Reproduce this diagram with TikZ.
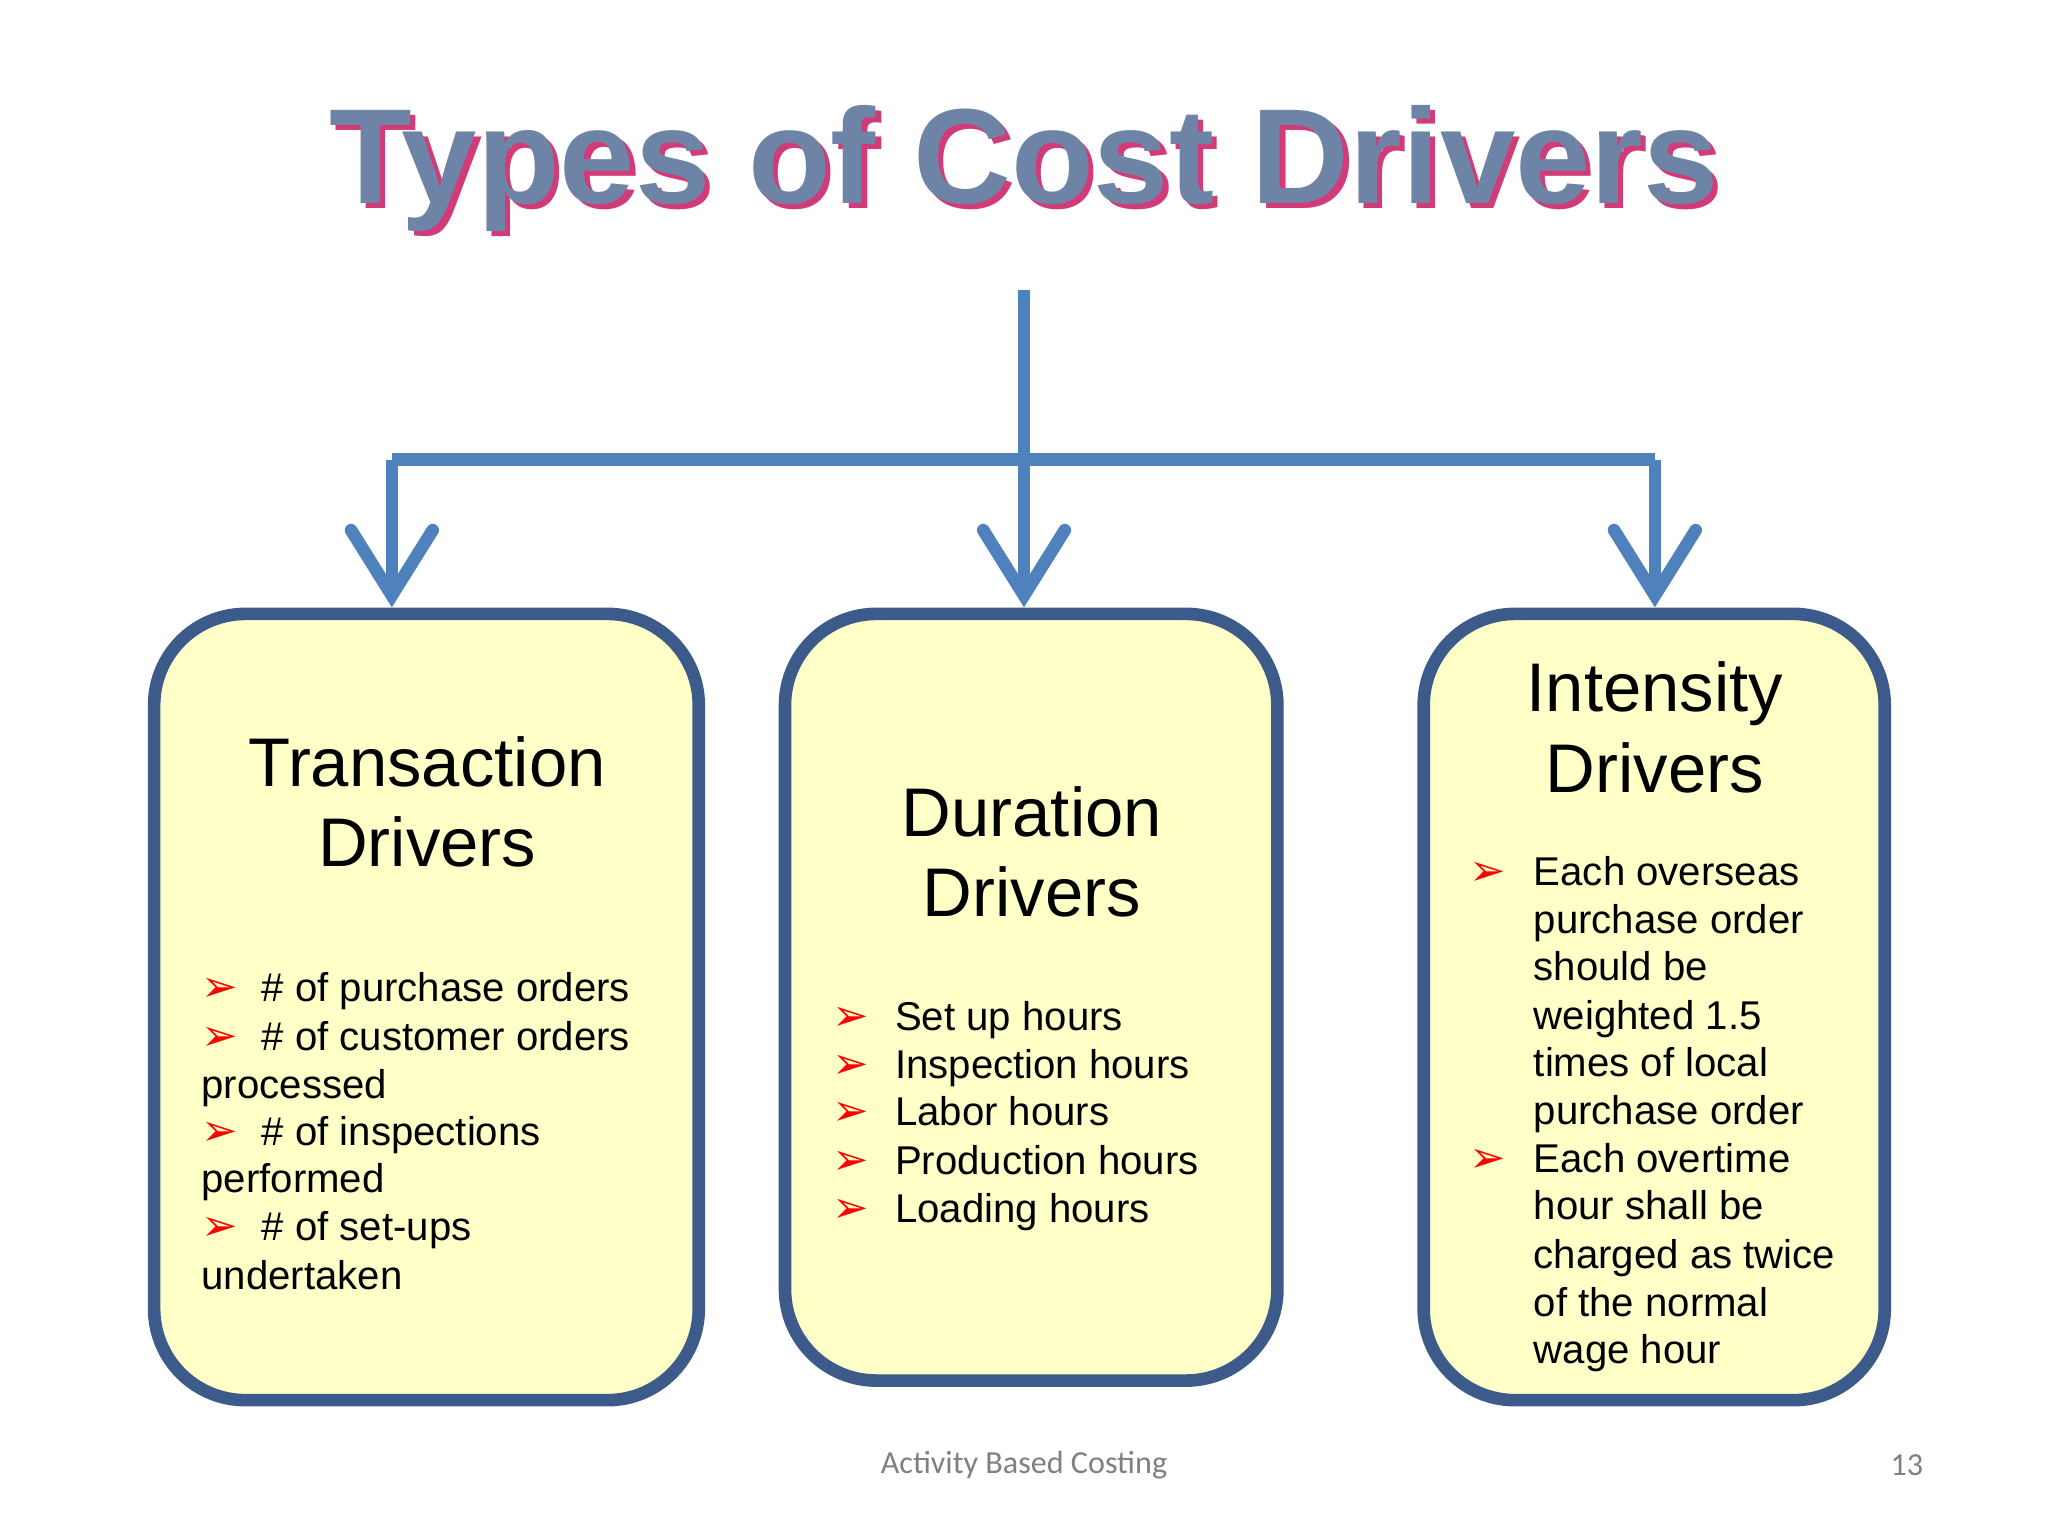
\documentclass[tikz,border=0pt]{standalone}
\usepackage{fontspec}
\setmainfont{Liberation Sans}
\newfontfamily\symf{DejaVu Sans}
\newfontfamily\foot{Carlito}
\usetikzlibrary{arrows.meta}
\definecolor{bfill}{HTML}{FFFFC8}
\definecolor{bdraw}{HTML}{3C5A8A}
\definecolor{conn}{HTML}{4F81BD}
\definecolor{ttl}{HTML}{6E84A6}
\definecolor{shd}{HTML}{D23A78}
\tikzset{
 box/.style={draw=bdraw,line width=5.5pt,fill=bfill,rounded corners=1.4cm},
 conline/.style={draw=conn,line width=5.5pt},
 conarrow/.style={conline,-{Straight Barb[length=1.0cm,width=1.25cm,line cap=round]}},
 head/.style={font=\fontsize{30}{35}\selectfont,align=center,text width=8cm},
 txt/.style={anchor=base west,inner sep=0pt,font=\fontsize{17.5}{21}\selectfont},
 bul/.style={anchor=base west,inner sep=0pt,text=red,font=\symf\fontsize{19}{21}\selectfont},
 ttlstyle/.style={font=\bfseries\fontsize{59}{66}\selectfont},
}
\begin{document}
\begin{tikzpicture}[x=0.02cm,y=-0.02cm]
\useasboundingbox[fill=white] (0,0) rectangle (1568,1176);
% title
\node[text=shd,ttlstyle] at (788,133) {Types of Cost Drivers};
\node (title) [text=ttl,ttlstyle] at (784,129) {Types of Cost Drivers};
% boxes
\draw[box] (118,470) rectangle (535,1072);
\draw[box] (601,470) rectangle (978,1057);
\draw[box] (1090,470) rectangle (1443,1072);
\coordinate (top) at (784,222);
\coordinate (hj) at (784,352);
\coordinate (hl) at (300,352);
\coordinate (hr) at (1267,352);
\coordinate (tl) at (300,465);
\coordinate (tm) at (784,465);
\coordinate (tr) at (1267,465);
\draw[conline] (hl) -- (hr);
\draw[conarrow] (top) -- (tm);
\draw[conarrow] (hl) -- (tl);
\draw[conarrow] (hr) -- (tr);
% headings
\node (h1) [head] at (327,614) {Transaction\\Drivers};
\node (h2) [head] at (790,652) {Duration\\Drivers};
\node (h3) [head] at (1267,557) {Intensity\\Drivers};
% left (baselines)
\foreach \y in {767,804,877,950} \node[bul] at (154,\y) {➢};
\node[txt] at (200,767) {\# of purchase orders};
\node[txt] at (200,804) {\# of customer orders};
\node[txt] at (154,841) {processed};
\node[txt] at (200,877) {\# of inspections};
\node[txt] at (154,913) {performed};
\node[txt] at (200,950) {\# of set-ups};
\node[txt] at (154,987) {undertaken};
% middle
\foreach \y/\t [count=\i] in {789/Set up hours,826/Inspection hours,862/Labor hours,899/Production hours,936/Loading hours}{
 \node[bul] at (637,\y) {➢};
 \node[txt] (m\i) at (685,\y) {\t};}
% right
\foreach \y in {678,898} \node[bul] at (1125,\y) {➢};
\foreach \y/\t in {678/Each overseas,715/purchase order,751/should be,788/weighted 1.5,824/times of local,861/purchase order,898/Each overtime,934/hour shall be,971/charged as twice,1008/of the normal,1044/wage hour}
 \node[txt] at (1174,\y) {\t};
% footer
\node[text=gray,font=\foot\fontsize{14}{16}\selectfont] at (784,1122) {Activity Based Costing};
\node[text=gray,font=\foot\fontsize{14}{16}\selectfont] at (1460,1122) {13};
\end{tikzpicture}
\end{document}
